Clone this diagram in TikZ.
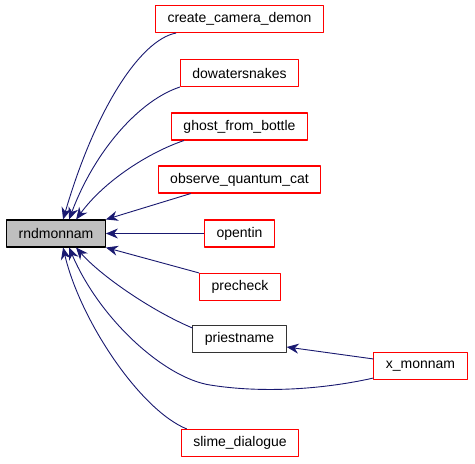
\documentclass[tikz,border=0pt]{standalone}
\usepackage{fontspec}
\setmainfont{Liberation Sans}
\usepackage{tikz}
\usetikzlibrary{arrows.meta}
\definecolor{cgedge}{HTML}{191970}
\definecolor{cgred}{HTML}{FF0000}
\definecolor{cggray}{HTML}{BFBFBF}
\begin{document}
\begin{tikzpicture}[x=1pt,y=-1pt,line join=round,
  font=\fontsize{14}{16}\selectfont,
  box/.style={draw=black!80,fill=white,line width=1.1pt,inner xsep=12pt,inner ysep=0pt,minimum height=27pt},
  root/.style={box,draw=black,fill=cggray},
  ref/.style={box,draw=cgred},
  arr/.style={-{Stealth[length=12pt,width=10pt]},cgedge,line width=0.9pt}]
\useasboundingbox (0,0) rectangle (475,464);
\fill[white] (0,0) rectangle (475,464);
\node[root] (rndmonnam) at (56,233.5) {rndmonnam};
\node[ref] (camera) at (239.5,19) {create\_camera\_demon};
\node[ref] (snakes) at (239.5,73) {dowatersnakes};
\node[ref] (ghost) at (239.5,126.5) {ghost\_from\_bottle};
\node[ref] (qcat) at (239.5,179.5) {observe\_quantum\_cat};
\node[ref] (opentin) at (239.5,233.5) {opentin};
\node[ref] (precheck) at (240,287) {precheck};
\node[box] (priest) at (239.5,339) {priestname};
\node[ref] (xmon) at (420.5,366) {x\_monnam};
\node[ref] (slime) at (240,443) {slime\_dialogue};
\draw[arr] ([xshift=21pt]camera.south west) .. controls (140,40) and (95,110) .. ([xshift=57pt]rndmonnam.north west);
\draw[arr] (snakes.south west) .. controls (140,100) and (95,150) .. ([xshift=63pt]rndmonnam.north west);
\draw[arr] ([xshift=13pt]ghost.south west) .. controls (150,152) and (105,180) .. ([xshift=70pt]rndmonnam.north west);
\draw[arr] ([xshift=33pt]qcat.south west) -- (rndmonnam.north east);
\draw[arr] (opentin) -- (rndmonnam);
\draw[arr] (precheck.north west) -- (rndmonnam.south east);
\draw[arr] ([yshift=-3pt]priest.north west) .. controls (150,310) and (100,275) .. ([xshift=70pt]rndmonnam.south west);
\draw[arr] ([yshift=2pt]xmon.south west) .. controls (320,390) and (260,393) .. (210,385)
  .. controls (165,378) and (100,320) .. ([xshift=63pt]rndmonnam.south west);
\draw[arr] ([xshift=6pt]slime.north west) .. controls (140,410) and (80,320) .. ([xshift=57pt]rndmonnam.south west);
\draw[arr] ([yshift=-7pt]xmon.north west) -- ([yshift=-8pt]priest.east);
\end{tikzpicture}
\end{document}
